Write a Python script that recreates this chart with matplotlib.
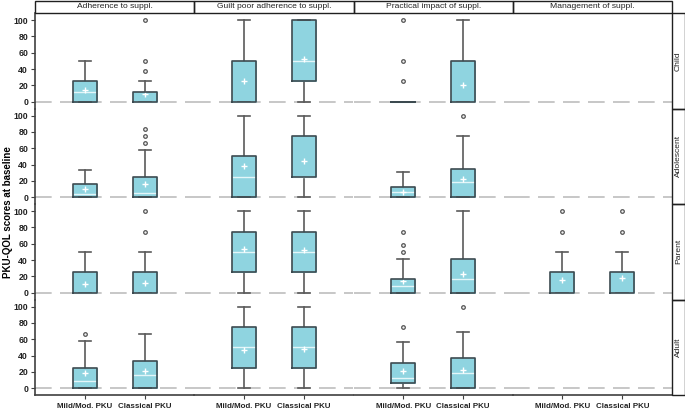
import numpy as np
import matplotlib
matplotlib.use('Agg')
import matplotlib.pyplot as plt
from matplotlib.patches import Rectangle

plt.rcParams['font.family'] = ['Liberation Sans', 'DejaVu Sans']

## data ##

domains = ['Adherence to suppl.', 'Guilt poor adherence to suppl.',
           'Practical impact of suppl.', 'Management of suppl.']
groups = ['Mild/Mod. PKU', 'Classical PKU']
respondents = ['Child', 'Adolescent', 'Parent', 'Adult']

# one row per respondent, 8 boxes per row: (domain x group)
# None = no data for that box
q1 = [
    [0, 0, 0, 25, 0, 0, None, None],
    [0, 0, 0, 25, 0, 0, None, None],
    [0, 0, 25, 25, 0, 0, 0, 0],
    [0, 0, 25, 25, 6.25, 0, None, None],
]
med = [
    [12.5, 0, 0, 50, 0, 0, None, None],
    [4, 5, 25, 25, 6, 18.75, None, None],
    [0, 0, 50, 50, 8.3, 16.7, 0, 0],
    [8.3, 16.7, 50, 50, 12.5, 18.75, None, None],
]
q3 = [
    [25, 12.5, 50, 100, 0, 50, None, None],
    [16.7, 25, 50, 75, 12.5, 34.4, None, None],
    [25, 25, 75, 75, 16.7, 41.7, 25, 25],
    [25, 33.3, 75, 75, 31.25, 37.5, None, None],
]
whislo = [
    [0, 0, 0, 0, 0, 0, None, None],
    [0, 0, 0, 0, 0, 0, None, None],
    [0, 0, 0, 0, 0, 0, 0, 0],
    [0, 0, 0, 0, 0, 0, None, None],
]
whishi = [
    [50, 25, 100, 100, 0, 100, None, None],
    [33.3, 58.3, 100, 100, 31.25, 75, None, None],
    [50, 50, 100, 100, 41.7, 100, 50, 50],
    [58.3, 66.7, 100, 100, 56.25, 68.75, None, None],
]
means = [
    [14, 9.5, 25, 52, None, 20, None, None],
    [10, 16, 38, 45, 7, 22, None, None],
    [11, 12, 54, 53, 14, 23, 16, 17.5],
    [19, 21, 47, 48, 21, 22.5, None, None],
]
outliers = [
    [[], [37.5, 50, 100], [], [], [25, 50, 100], [], [], []],
    [[], [66.7, 75, 83.3], [], [], [], [100], [], []],
    [[], [75, 100], [], [], [50, 58.3, 75], [], [75, 100], [75, 100]],
    [[66.7], [], [], [], [75], [100], [], []],
]

## style ##

W, H = 685, 412
FILL = '#8fd4e0'
EDGE = '#3c4a50'
WHISK = '#5a5a5a'
left_px, col_w = 35, 159.25
row_top = [13, 108.5, 204, 299.5]
row_h = 95.5
ylim = (-8.3, 108.8)


def fig_rect(x, y, w, h):
    # pixel box (top-left origin) -> figure fraction
    return [x / W, 1 - (y + h) / H, w / W, h / H]


fig = plt.figure(figsize=(W / 100, H / 100), dpi=100)

for r in range(4):
    for c in range(4):
        ax = fig.add_axes(fig_rect(left_px + col_w * c, row_top[r], col_w, row_h))
        ax.set_xlim(1 - 0.83, 2 + 0.83)
        ax.set_ylim(*ylim)
        ax.axhline(0, color='#bdbdbd', lw=1.2, dashes=(10, 5), zorder=1)

        stats, pos = [], []
        for g in range(2):
            k = c * 2 + g
            if q1[r][k] is None:
                continue
            stats.append(dict(q1=q1[r][k], med=med[r][k], q3=q3[r][k],
                              whislo=whislo[r][k], whishi=whishi[r][k],
                              fliers=outliers[r][k],
                              mean=means[r][k] if means[r][k] is not None else np.nan))
            pos.append(g + 1)

        if stats:
            ax.bxp(stats, positions=pos, widths=0.4, patch_artist=True,
                   showmeans=True, manage_ticks=False,
                   boxprops=dict(facecolor=FILL, edgecolor=FILL, lw=0.5, zorder=2),
                   medianprops=dict(color='#e4f6f9', lw=1.0, zorder=2.5),
                   whiskerprops=dict(color=WHISK, lw=1.2, zorder=1.5),
                   capprops=dict(color=WHISK, lw=1.2),
                   capwidths=0.2,
                   meanprops=dict(marker='+', markeredgecolor='white',
                                  markersize=5, markeredgewidth=1.0, zorder=3),
                   flierprops=dict(marker='o', markerfacecolor='#f0f0f0',
                                   markeredgecolor='#555555', markersize=2.6,
                                   markeredgewidth=0.9))
            # box outlines drawn over the median line
            ax.bxp(stats, positions=pos, widths=0.4, patch_artist=False,
                   showcaps=False, showfliers=False, manage_ticks=False,
                   boxprops=dict(color=EDGE, lw=1.2, zorder=4),
                   medianprops=dict(visible=False),
                   whiskerprops=dict(visible=False))

        for side in ['top', 'right']:
            ax.spines[side].set_visible(False)
        ax.spines['left'].set_visible(c == 0)
        ax.spines['bottom'].set_visible(r == 3)
        for side in ['left', 'bottom']:
            ax.spines[side].set_color('#404040')
            ax.spines[side].set_linewidth(1.2)

        if c == 0:
            ax.set_yticks([0, 20, 40, 60, 80, 100])
            ax.tick_params(axis='y', length=3, width=0.8, color='#404040',
                           labelsize=6.3, pad=2)
            for t in ax.get_yticklabels():
                t.set_fontweight('bold')
                t.set_color('#222222')
        else:
            ax.set_yticks([])
        if r == 3:
            ax.set_xticks([1, 2])
            ax.set_xticklabels(groups, fontsize=5.7, fontweight='bold', color='#222222')
            ax.tick_params(axis='x', length=3, width=0.8, color='#404040', pad=2.5)
        else:
            ax.set_xticks([])
        ax.patch.set_alpha(0)

# column headers
for c in range(4):
    fig.patches.append(Rectangle((left_px + col_w * c, H - 13), col_w, 12.5,
                                 transform=None, fill=False, ec='#202020', lw=1.0))
    fig.text((left_px + col_w * (c + 0.5)) / W, 1 - 6.7 / H, domains[c],
             ha='center', va='center', fontsize=6.1, color='#222222')

# row headers
for r in range(4):
    fig.patches.append(Rectangle((672, H - row_top[r] - row_h), 12.5, row_h,
                                 transform=None, fill=False, ec='#202020', lw=1.0))
    fig.text(678.3 / W, 1 - (row_top[r] + row_h / 2) / H, respondents[r],
             ha='center', va='center', rotation=90, fontsize=6.1, color='#222222')

fig.text(8 / W, 1 - 212 / H, 'PKU-QOL scores at baseline', rotation=90,
         ha='center', va='center', fontsize=7, fontweight='bold')

fig.savefig('out.png', dpi=100)
